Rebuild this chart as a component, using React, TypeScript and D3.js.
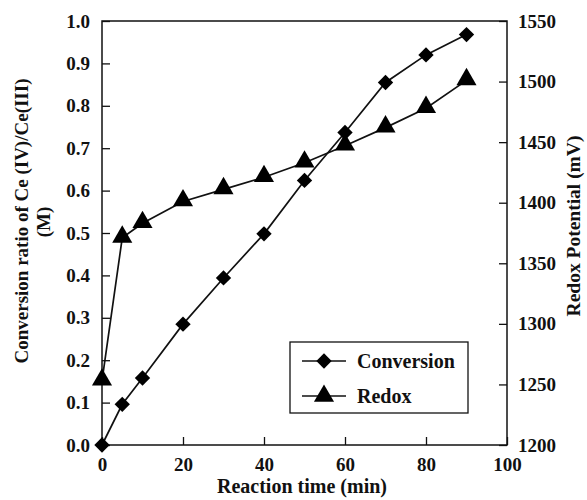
import React, { useEffect, useRef } from 'react'
import * as d3 from 'd3'

// reaction time (min)
const times = [0, 5, 10, 20, 30, 40, 50, 60, 70, 80, 90]
// conversion ratio of Ce(IV)/Ce(III)
const conversion = [0.0, 0.096, 0.158, 0.285, 0.394, 0.498, 0.624, 0.737, 0.855, 0.92, 0.968]
// redox potential (mV)
const redox = [1253, 1371, 1383, 1401, 1411, 1421, 1433, 1447, 1462, 1478, 1501]

const xTicks = [0, 20, 40, 60, 80, 100]
const leftTicks = [0, 0.1, 0.2, 0.3, 0.4, 0.5, 0.6, 0.7, 0.8, 0.9, 1.0]
const rightTicks = [1200, 1250, 1300, 1350, 1400, 1450, 1500, 1550]

const FONT = '"Liberation Serif", "Times New Roman", serif'

function drawChart(node: SVGSVGElement) {
  const svg = d3.select(node)
  svg.selectAll('*').remove()

  const margin = { top: 21, right: 80, bottom: 55, left: 102 }
  const width = 587 - margin.left - margin.right
  const height = 500 - margin.top - margin.bottom

  const x = d3.scaleLinear().domain([0, 100]).range([0, width])
  const yL = d3.scaleLinear().domain([0, 1]).range([height, 0])
  const yR = d3.scaleLinear().domain([1200, 1550]).range([height, 0])

  const g = svg.append('g').attr('transform', `translate(${margin.left},${margin.top})`)

  // frame
  g.append('rect')
    .attr('x', 0).attr('y', 0)
    .attr('width', width).attr('height', height)
    .attr('fill', 'none').attr('stroke', '#111').attr('stroke-width', 1.5)

  const styleAxis = (sel: any) => {
    sel.select('.domain').remove()
    sel.selectAll('line').attr('stroke', '#111').attr('stroke-width', 1.3)
    sel.selectAll('text')
      .attr('fill', '#111')
      .attr('font-family', FONT)
      .attr('font-weight', 'bold')
      .attr('font-size', 19)
  }

  g.append('g')
    .attr('transform', `translate(0,${height})`)
    .call(d3.axisBottom(x).tickValues(xTicks).tickSize(-8).tickPadding(13).tickFormat(d3.format('d')))
    .call(styleAxis)

  g.append('g')
    .call(d3.axisLeft(yL).tickValues(leftTicks).tickSize(-8).tickPadding(12).tickFormat(d3.format('.1f')))
    .call(styleAxis)

  g.append('g')
    .attr('transform', `translate(${width},0)`)
    .call(d3.axisRight(yR).tickValues(rightTicks).tickSize(-8).tickPadding(11).tickFormat(d3.format('d')))
    .call(styleAxis)

  const convData = times.map((t, i) => ({ t, v: conversion[i] }))
  const redoxData = times.map((t, i) => ({ t, v: redox[i] }))

  const lineL = d3.line<{ t: number; v: number }>().x(d => x(d.t)).y(d => yL(d.v))
  const lineR = d3.line<{ t: number; v: number }>().x(d => x(d.t)).y(d => yR(d.v))

  g.append('path').datum(redoxData).attr('d', lineR)
    .attr('fill', 'none').attr('stroke', '#111').attr('stroke-width', 1.7)
  g.append('path').datum(convData).attr('d', lineL)
    .attr('fill', 'none').attr('stroke', '#111').attr('stroke-width', 1.7)

  const diamond = d3.symbol().type(d3.symbolDiamond2).size(150)
  const triangle = d3.symbol().type(d3.symbolTriangle).size(175)

  g.selectAll('.conv').data(convData).enter().append('path')
    .attr('class', 'conv')
    .attr('transform', d => `translate(${x(d.t)},${yL(d.v)})`)
    .attr('d', diamond).attr('fill', '#000')

  g.selectAll('.redox').data(redoxData).enter().append('path')
    .attr('class', 'redox')
    .attr('transform', d => `translate(${x(d.t)},${yR(d.v) - 1})`)
    .attr('d', triangle).attr('fill', '#000')

  // legend
  const lg = g.append('g').attr('transform', `translate(${290 - margin.left},${342 - margin.top})`)
  lg.append('rect').attr('width', 178).attr('height', 71)
    .attr('fill', '#fff').attr('stroke', '#111').attr('stroke-width', 1.3)
  const items = [
    { label: 'Conversion', sym: diamond, y: 19 },
    { label: 'Redox', sym: triangle, y: 54 },
  ]
  items.forEach(it => {
    lg.append('line').attr('x1', 12).attr('x2', 56).attr('y1', it.y).attr('y2', it.y)
      .attr('stroke', '#111').attr('stroke-width', 1.7)
    lg.append('path').attr('transform', `translate(34,${it.y})`).attr('d', it.sym).attr('fill', '#000')
    lg.append('text').attr('x', 67).attr('y', it.y).attr('dy', '0.35em')
      .attr('font-family', FONT).attr('font-weight', 'bold').attr('font-size', 20)
      .attr('fill', '#111').text(it.label)
  })

  // axis titles
  const title = (sel: any, size: number) =>
    sel.attr('text-anchor', 'middle')
      .attr('font-family', FONT).attr('font-weight', 'bold').attr('font-size', size)
      .attr('fill', '#111')

  svg.append('text')
    .attr('x', 302).attr('y', 493)
    .call(title, 20).text('Reaction time (min)')

  svg.append('text')
    .attr('transform', 'translate(28,221) rotate(-90)')
    .call(title, 19).text('Conversion ratio of Ce (IV)/Ce(III)')

  svg.append('text')
    .attr('transform', 'translate(50,222) rotate(-90)')
    .call(title, 19).text('(M)')

  svg.append('text')
    .attr('transform', 'translate(580,226) rotate(-90)')
    .call(title, 19.5).text('Redox Potential (mV)')
}

export default function App() {
  const ref = useRef<SVGSVGElement>(null)
  useEffect(() => {
    if (ref.current) drawChart(ref.current)
  }, [])
  return (
    <svg
      ref={ref}
      width={587}
      height={500}
      style={{ position: 'absolute', left: 0, top: 0, background: '#fff' }}
    />
  )
}
